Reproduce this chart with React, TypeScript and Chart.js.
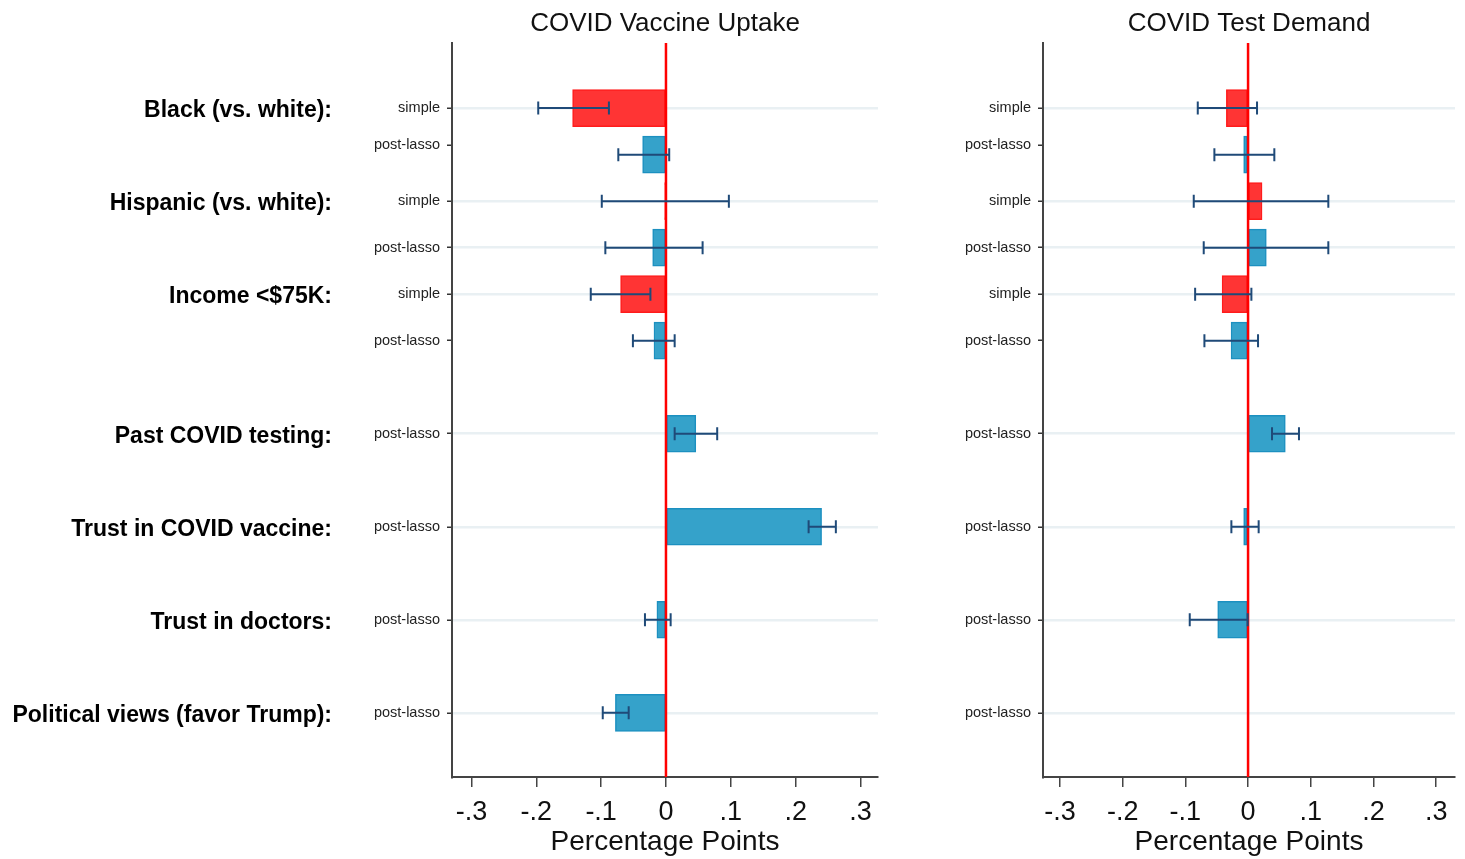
import React, { useEffect, useRef } from "react";
import { Chart, registerables } from "chart.js";

Chart.register(...registerables);

const FONT = "'Liberation Sans', Arial, Helvetica, sans-serif";

// Row positions (in row units, top to bottom)
const simplePos = [1, 2, 3];
const lassoPos = [1.5, 2.5, 3.5, 4.5, 5.5, 6.5, 7.5];

// Sub-row tick labels on the y axis
const rowTickPos = [1, 1.4, 2, 2.5, 3, 3.5, 4.5, 5.5, 6.5, 7.5];
const rowTickLabels = [
  "simple", "post-lasso", "simple", "post-lasso", "simple", "post-lasso",
  "post-lasso", "post-lasso", "post-lasso", "post-lasso",
];
const rowGrid = [true, false, true, true, true, false, true, true, true, true];

// Group labels
const groupPos = [1, 2, 3, 4.5, 5.5, 6.5, 7.5];
const groupLabels = [
  "Black (vs. white):",
  "Hispanic (vs. white):",
  "Income <$75K:",
  "Past COVID testing:",
  "Trust in COVID vaccine:",
  "Trust in doctors:",
  "Political views (favor Trump):",
];

// X ticks
const xTicks = [-0.3, -0.2, -0.1, 0, 0.1, 0.2, 0.3];
const xTickLabels = ["-.3", "-.2", "-.1", "0", ".1", ".2", ".3"];

// COVID Vaccine Uptake
const vaxSimple = [-0.144, -0.002, -0.07];
const vaxSimpleLo = [-0.197, -0.099, -0.116];
const vaxSimpleHi = [-0.088, 0.097, -0.024];
const vaxLasso = [-0.036, -0.0205, -0.0185, 0.046, 0.24, -0.014, -0.078];
const vaxLassoLo = [-0.0735, -0.0935, -0.051, 0.0134, 0.22, -0.0324, -0.0975];
const vaxLassoHi = [0.005, 0.0565, 0.0134, 0.079, 0.262, 0.0072, -0.0575];

// COVID Test Demand
const testSimple = [-0.0346, 0.0223, -0.0414];
const testSimpleLo = [-0.0802, -0.0866, -0.0844];
const testSimpleHi = [0.0143, 0.128, 0.0053];
const testLasso = [-0.007, 0.0291, -0.0271, 0.0594, -0.007, -0.0484, null];
const testLassoLo = [-0.0537, -0.0707, -0.0696, 0.0382, -0.0266, -0.093, null];
const testLassoHi = [0.0419, 0.128, 0.0159, 0.0812, 0.0169, -0.0006, null];

const RED_FILL = "#ff3434";
const RED_BORDER = "#ff1c1c";
const BLUE_FILL = "#35a2ca";
const BLUE_BORDER = "#1c90c0";
const ERR_COLOR = "#1f4a78";

const overlayPlugin = {
  id: "overlay",
  afterDatasetsDraw(chart: any) {
    const { ctx, chartArea } = chart;
    const xs = chart.scales.x;
    const ys = chart.scales.y;
    // zero line
    const x0 = xs.getPixelForValue(0);
    ctx.save();
    ctx.strokeStyle = "#ff0000";
    ctx.lineWidth = 2.5;
    ctx.beginPath();
    ctx.moveTo(x0, chartArea.top);
    ctx.lineTo(x0, chartArea.bottom);
    ctx.stroke();
    // error bars
    ctx.strokeStyle = ERR_COLOR;
    ctx.lineWidth = 2;
    chart.data.datasets.forEach((ds: any) => {
      const lo = ds.errLo || [];
      const hi = ds.errHi || [];
      ds.data.forEach((pt: any, i: number) => {
        if (lo[i] == null || hi[i] == null) return;
        const y = ys.getPixelForValue(pt.y);
        const xl = xs.getPixelForValue(lo[i]);
        const xh = xs.getPixelForValue(hi[i]);
        ctx.beginPath();
        ctx.moveTo(xl, y);
        ctx.lineTo(xh, y);
        ctx.moveTo(xl, y - 6.5);
        ctx.lineTo(xl, y + 6.5);
        ctx.moveTo(xh, y - 6.5);
        ctx.lineTo(xh, y + 6.5);
        ctx.stroke();
      });
    });
    ctx.restore();
  },
  afterDraw(chart: any, _args: any, opts: any) {
    const { ctx, chartArea } = chart;
    ctx.save();
    ctx.font = `26px ${FONT}`;
    ctx.fillStyle = "#111";
    ctx.textAlign = "center";
    ctx.textBaseline = "middle";
    ctx.fillText(opts.text, (chartArea.left + chartArea.right) / 2, 24);
    ctx.restore();
  },
};

function makeConfig(
  title: string,
  simple: (number | null)[],
  simpleLo: (number | null)[],
  simpleHi: (number | null)[],
  lasso: (number | null)[],
  lassoLo: (number | null)[],
  lassoHi: (number | null)[],
  xMin: number,
  xMax: number,
  withGroups: boolean,
  yWidth: number,
  padRight: number
): any {
  const simpleData = simplePos
    .map((y, i) => ({ x: simple[i], y }))
    .filter((p) => p.x != null);
  const lassoData = lassoPos
    .map((y, i) => ({ x: lasso[i], y }))
    .filter((p) => p.x != null);
  const scales: any = {
    x: {
      type: "linear",
      min: xMin,
      max: xMax,
      afterBuildTicks: (a: any) => {
        a.ticks = xTicks.map((v) => ({ value: v }));
      },
      ticks: {
        callback: (_v: any, i: number) => xTickLabels[i],
        font: { family: FONT, size: 27 },
        color: "#111",
        padding: 9,
        autoSkip: false,
        maxRotation: 0,
      },
      grid: {
        drawOnChartArea: false,
        drawTicks: true,
        tickLength: 10,
        tickColor: "#444",
        lineWidth: 1.5,
      },
      border: { display: true, color: "#444", width: 2 },
      title: {
        display: true,
        text: "Percentage Points",
        font: { family: FONT, size: 28 },
        color: "#111",
        padding: { top: 0, bottom: 0 },
      },
      afterFit: (a: any) => {
        a.height = 82;
      },
    },
    y: {
      type: "linear",
      position: "left",
      reverse: true,
      offset: false,
      min: 0.3,
      max: 8.19,
      weight: 0,
      afterBuildTicks: (a: any) => {
        a.ticks = rowTickPos.map((v) => ({ value: v }));
      },
      ticks: {
        callback: (_v: any, i: number) => rowTickLabels[i],
        font: { family: FONT, size: 14.5 },
        color: "#222",
        padding: 7,
        autoSkip: false,
      },
      grid: {
        offset: false,
        color: (c: any) => (rowGrid[c.index] ? "#e9f0f3" : "rgba(0,0,0,0)"),
        lineWidth: 2.5,
        drawTicks: true,
        tickLength: 5,
        tickColor: "#333",
        tickWidth: 1.5,
      },
      border: { display: true, color: "#444", width: 2 },
      afterFit: (a: any) => {
        a.width = yWidth;
      },
    },
  };
  if (withGroups) {
    scales.yg = {
      type: "linear",
      position: "left",
      reverse: true,
      offset: false,
      min: 0.27,
      max: 8.16,
      weight: 1,
      afterBuildTicks: (a: any) => {
        a.ticks = groupPos.map((v) => ({ value: v }));
      },
      ticks: {
        callback: (_v: any, i: number) => groupLabels[i],
        font: { family: FONT, size: 23, weight: "bold" },
        color: "#000",
        padding: 8,
        autoSkip: false,
      },
      grid: { display: false, drawTicks: false, offset: false },
      border: { display: false },
      afterFit: (a: any) => {
        a.width = 340;
      },
    };
  }
  return {
    type: "bar",
    data: {
      datasets: [
        {
          label: "simple",
          data: simpleData,
          errLo: simpleLo,
          errHi: simpleHi,
          backgroundColor: RED_FILL,
          borderColor: RED_BORDER,
          borderWidth: 1.5,
          borderSkipped: false,
          barThickness: 37,
          grouped: false,
          xAxisID: "x",
          yAxisID: "y",
        },
        {
          label: "post-lasso",
          data: lassoData,
          errLo: lassoLo,
          errHi: lassoHi,
          backgroundColor: BLUE_FILL,
          borderColor: BLUE_BORDER,
          borderWidth: 1.5,
          borderSkipped: false,
          barThickness: 37,
          grouped: false,
          xAxisID: "x",
          yAxisID: "y",
        },
      ],
    },
    options: {
      indexAxis: "y",
      animation: false,
      responsive: false,
      maintainAspectRatio: false,
      devicePixelRatio: 1,
      layout: { padding: { top: 43, right: padRight, bottom: 0, left: 0 } },
      plugins: {
        legend: { display: false },
        tooltip: { enabled: false },
        overlay: { text: title },
      },
      scales,
    },
    plugins: [overlayPlugin],
  };
}

export default function App() {
  const leftRef = useRef<HTMLCanvasElement | null>(null);
  const rightRef = useRef<HTMLCanvasElement | null>(null);

  useEffect(() => {
    const c1 = new Chart(
      leftRef.current as HTMLCanvasElement,
      makeConfig(
        "COVID Vaccine Uptake",
        vaxSimple, vaxSimpleLo, vaxSimpleHi,
        vaxLasso, vaxLassoLo, vaxLassoHi,
        -0.33, 0.327, true, 112, 22
      )
    );
    const c2 = new Chart(
      rightRef.current as HTMLCanvasElement,
      makeConfig(
        "COVID Test Demand",
        testSimple, testSimpleLo, testSimpleHi,
        testLasso, testLassoLo, testLassoHi,
        -0.327, 0.33, false, 143, 10
      )
    );
    return () => {
      c1.destroy();
      c2.destroy();
    };
  }, []);

  return (
    <div
      style={{
        position: "fixed",
        left: 0,
        top: 0,
        width: 1465,
        height: 859,
        background: "#fff",
        overflow: "hidden",
      }}
    >
      <canvas
        ref={leftRef}
        width={900}
        height={859}
        style={{ position: "absolute", left: 0, top: 0, width: 900, height: 859 }}
      />
      <canvas
        ref={rightRef}
        width={565}
        height={859}
        style={{ position: "absolute", left: 900, top: 0, width: 565, height: 859 }}
      />
    </div>
  );
}
